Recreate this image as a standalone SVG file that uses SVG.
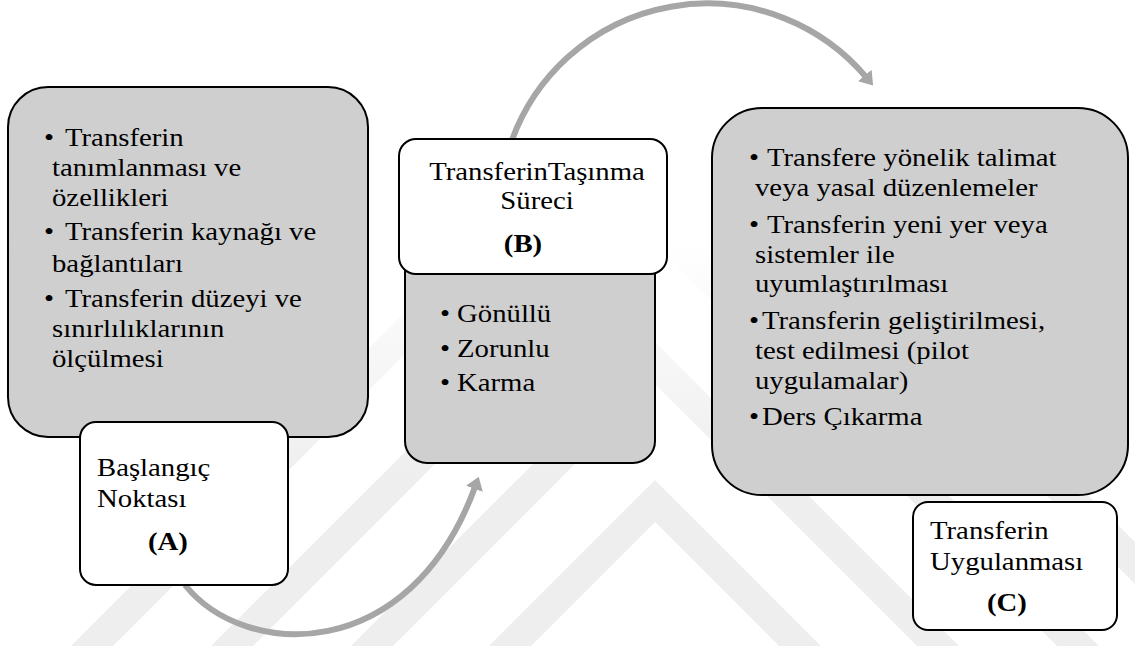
<svg xmlns="http://www.w3.org/2000/svg" width="1135" height="646" viewBox="0 0 1135 646">
  <defs>
    <style>
      .t { font-family: "Liberation Serif", "Times New Roman", serif; font-size: 25px; fill: #000; }
      .b { font-weight: bold; }
      .m { text-anchor: middle; }
      .panel { fill: #cfcfcf; stroke: #000; stroke-width: 2; }
      .label { fill: #fff; stroke: #000; stroke-width: 2; }
      .flow { fill: none; stroke: #a6a6a6; stroke-width: 6; marker-end: url(#head); }
    </style>
    <marker id="head" markerUnits="userSpaceOnUse" viewBox="0 0 13 18" markerWidth="13" markerHeight="18" refX="2" refY="9" orient="auto">
      <path d="M0,0 L13,9 L0,18 z" fill="#a6a6a6"/>
    </marker>
    <linearGradient id="fade" gradientUnits="userSpaceOnUse" x1="0" y1="240" x2="0" y2="480">
      <stop offset="0" stop-color="#eeeeee" stop-opacity="0"/>
      <stop offset="1" stop-color="#eeeeee" stop-opacity="1"/>
    </linearGradient>
  </defs>

  <rect width="1135" height="646" fill="#fff"/>

  <!-- faint background chevrons -->
  <g id="backdrop" fill="url(#fade)">
    <polygon points="435,700 655,480 875,700 833,700 655,522 477,700"/>
    <polygon points="297,700 655,342 1013,700 971,700 655,384 339,700"/>
    <polygon points="157,700 655,202 1153,700 1111,700 655,244 199,700"/>
    <polygon points="17,700 655,62 1293,700 1251,700 655,104 59,700"/>
  </g>

  <!-- connectors -->
  <g id="connectors">
    <path class="flow" d="M185,585 C245,660 410,665 475,487"/>
    <path class="flow" d="M512,140 A208,208 0 0 1 866,77"/>
  </g>

  <!-- A: starting point -->
  <g id="node-a">
    <rect class="panel" x="8" y="87" width="360" height="350" rx="40" ry="40"/>
    <text class="t" transform="translate(44,146) scale(1.15,1)">•</text>
    <text class="t" transform="translate(65,146) scale(1.15,1)">Transferin</text>
    <text class="t" transform="translate(52,176) scale(1.15,1)">tanımlanması ve</text>
    <text class="t" transform="translate(52,206) scale(1.15,1)">özellikleri</text>
    <text class="t" transform="translate(44,240) scale(1.15,1)">•</text>
    <text class="t" transform="translate(65,240) scale(1.15,1)">Transferin kaynağı ve</text>
    <text class="t" transform="translate(52,272) scale(1.15,1)">bağlantıları</text>
    <text class="t" transform="translate(44,307) scale(1.15,1)">•</text>
    <text class="t" transform="translate(65,307) scale(1.15,1)">Transferin düzeyi ve</text>
    <text class="t" transform="translate(52,337) scale(1.15,1)">sınırlılıklarının</text>
    <text class="t" transform="translate(52,367) scale(1.15,1)">ölçülmesi</text>
  </g>
  <g id="node-a-label">
    <rect class="label" x="80" y="422" width="208" height="163" rx="16" ry="16"/>
    <text class="t" transform="translate(97,476) scale(1.15,1)">Başlangıç</text>
    <text class="t" transform="translate(97,507) scale(1.15,1)">Noktası</text>
    <text class="t b m" transform="translate(168,550) scale(1.15,1)">(A)</text>
  </g>

  <!-- B: transfer process -->
  <g id="node-b">
    <rect class="panel" x="405" y="250" width="250" height="213" rx="22" ry="22"/>
    <text class="t" transform="translate(440,322) scale(1.15,1)">•</text>
    <text class="t" transform="translate(457,322) scale(1.15,1)">Gönüllü</text>
    <text class="t" transform="translate(440,357) scale(1.15,1)">•</text>
    <text class="t" transform="translate(457,357) scale(1.15,1)">Zorunlu</text>
    <text class="t" transform="translate(440,391) scale(1.15,1)">•</text>
    <text class="t" transform="translate(457,391) scale(1.15,1)">Karma</text>
  </g>
  <g id="node-b-label">
    <rect class="label" x="399" y="139" width="268" height="135" rx="17" ry="17"/>
    <text class="t m" transform="translate(537,180) scale(1.15,1)">TransferinTaşınma</text>
    <text class="t m" transform="translate(537,209) scale(1.15,1)">Süreci</text>
    <text class="t b m" transform="translate(523,252) scale(1.15,1)">(B)</text>
  </g>

  <!-- C: implementation -->
  <g id="node-c">
    <rect class="panel" x="712" y="108" width="416" height="387" rx="50" ry="50"/>
    <text class="t" transform="translate(749,166) scale(1.15,1)">•</text>
    <text class="t" transform="translate(767,166) scale(1.15,1)">Transfere yönelik talimat</text>
    <text class="t" transform="translate(755,196) scale(1.15,1)">veya yasal düzenlemeler</text>
    <text class="t" transform="translate(749,233) scale(1.15,1)">•</text>
    <text class="t" transform="translate(767,233) scale(1.15,1)">Transferin yeni yer veya</text>
    <text class="t" transform="translate(755,263) scale(1.15,1)">sistemler ile</text>
    <text class="t" transform="translate(755,292) scale(1.15,1)">uyumlaştırılması</text>
    <text class="t" transform="translate(749,329) scale(1.15,1)">•</text>
    <text class="t" transform="translate(762,329) scale(1.15,1)">Transferin geliştirilmesi,</text>
    <text class="t" transform="translate(755,359) scale(1.15,1)">test edilmesi (pilot</text>
    <text class="t" transform="translate(755,389) scale(1.15,1)">uygulamalar)</text>
    <text class="t" transform="translate(749,425) scale(1.15,1)">•</text>
    <text class="t" transform="translate(762,425) scale(1.15,1)">Ders Çıkarma</text>
  </g>
  <g id="node-c-label">
    <rect class="label" x="913" y="502" width="204" height="128" rx="15" ry="15"/>
    <text class="t" transform="translate(930,539) scale(1.15,1)">Transferin</text>
    <text class="t" transform="translate(930,570) scale(1.15,1)">Uygulanması</text>
    <text class="t b m" transform="translate(1007,611) scale(1.15,1)">(C)</text>
  </g>
</svg>
